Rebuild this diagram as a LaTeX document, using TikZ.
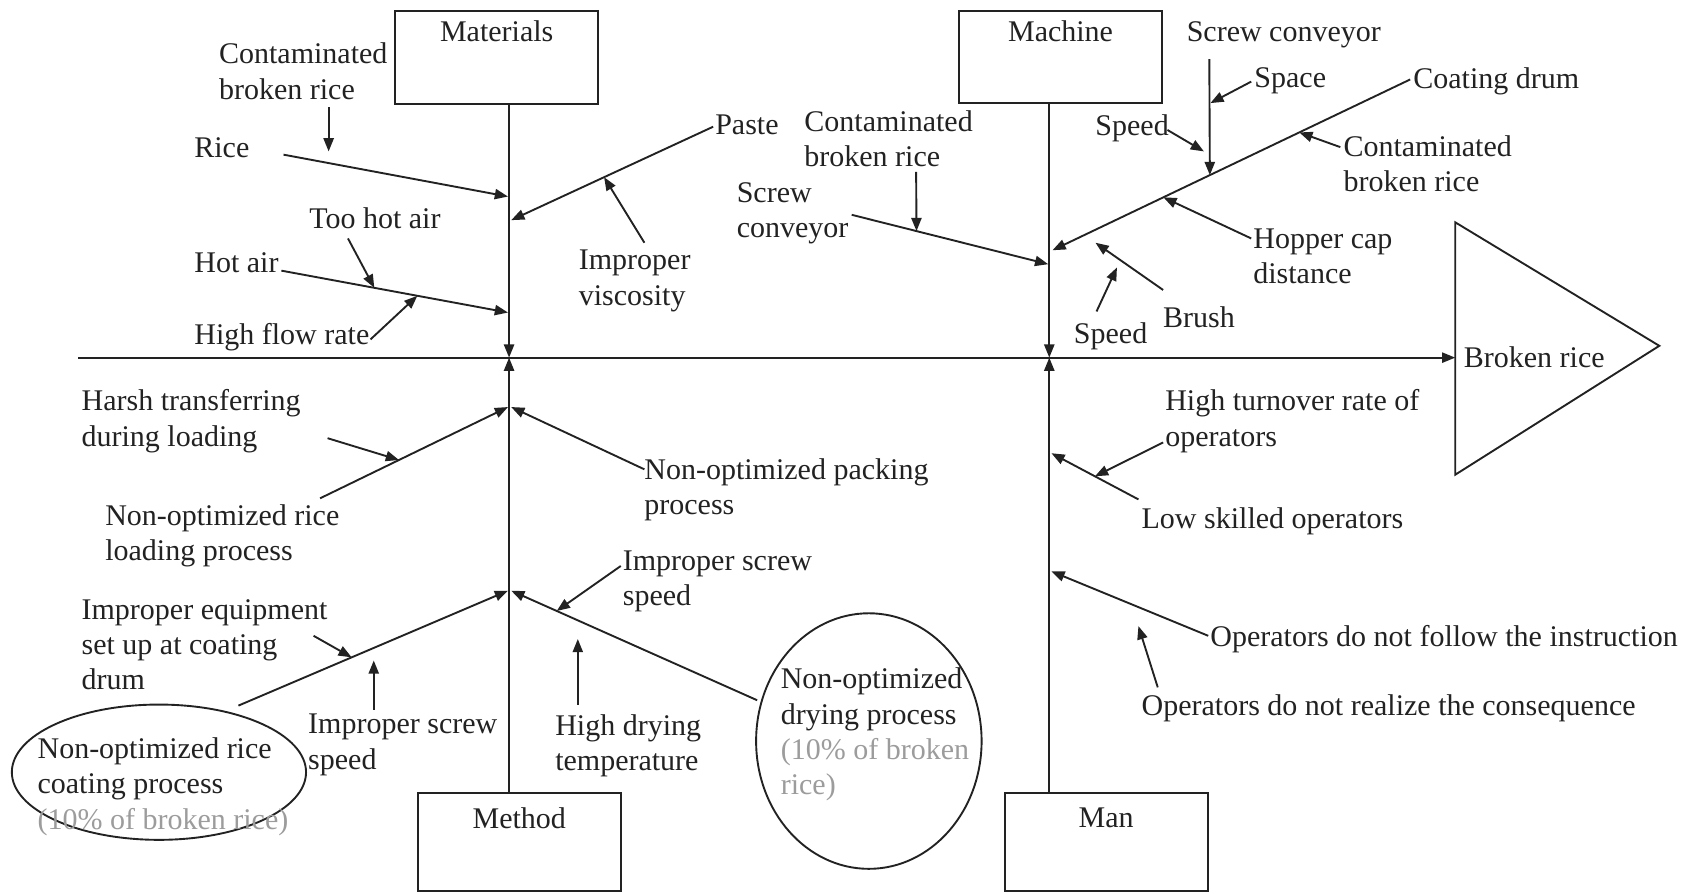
\documentclass[tikz,border=0pt]{standalone}
\usepackage{fontspec}
\setmainfont{Liberation Serif}
\usetikzlibrary{arrows.meta,calc,shapes.geometric}
\definecolor{ink}{HTML}{222222}
\definecolor{soft}{HTML}{9C9C9C}
\newcommand\lblsize{\fontsize{15.9}{18.7}\selectfont}
\begin{document}
\begin{tikzpicture}[x=0.02cm,y=-0.02cm,
  lbl/.style={font=\lblsize, inner sep=0pt, outer sep=0pt, align=left, anchor=north west, text=ink},
  ttl/.style={font=\lblsize, inner sep=0pt, outer sep=0pt, anchor=north, text=ink},
  ln/.style={draw=ink, line width=1pt},
  arr/.style={ln, -{Triangle[length=7pt,width=5.4pt]}},
  catbox/.style={draw=ink, line width=1pt, minimum width=3.78cm, inner sep=0pt},
  oval/.style={draw=ink, line width=1pt, ellipse, inner sep=0pt}]
\useasboundingbox (0,0) rectangle (1568,832);

% ---------- category boxes ----------
\node[catbox, minimum height=1.74cm] (matbox) at (462.5,53.5) {};
\node[ttl] (matlbl) at ([yshift=-0.2cm]matbox.north) {Materials};
\node[catbox, minimum height=1.72cm] (macbox) at (987.5,53) {};
\node[ttl] (maclbl) at ([yshift=-0.2cm]macbox.north) {Machine};
\node[catbox, minimum height=1.84cm] (metbox) at (483.5,784) {};
\node[ttl] (metlbl) at ([yshift=-0.3cm]metbox.north) {Method};
\node[catbox, minimum height=1.84cm] (manbox) at (1030,784) {};
\node[ttl] (manlbl) at ([yshift=-0.3cm]manbox.north) {Man};

% ---------- head ----------
\coordinate (tA) at (1355,207);
\coordinate (tB) at (1545,322);
\coordinate (tC) at (1355,442);
\draw[ln, line join=miter] (tA) -- (tB) -- (tC) -- cycle;
\node[lbl] (broken) at (1363,323) {Broken rice};

% ---------- spine ----------
\coordinate (spS) at (73,333);
\coordinate (spE) at (1355,333);
\draw[arr] (spS) -- (spE);

\coordinate (matJ) at (474,333);
\coordinate (macJ) at (977,333);
\draw[arr] (matbox.south -| matJ) -- (matJ);
\draw[arr] (metbox.north -| matJ) -- (matJ);
\draw[arr] (macbox.south -| macJ) -- (macJ);
\draw[arr] (manbox.north -| macJ) -- (macJ);

% ---------- Materials ----------
\node[lbl] (mcbr) at (204,40) {Contaminated\\broken rice};
\node[lbl] (rice) at (181,128) {Rice};
\node[lbl] (paste) at (666,107) {Paste};
\node[lbl] (visc) at (539,233) {Improper\\viscosity};
\node[lbl] (toohot) at (288,193) {Too hot air};
\node[lbl] (hotair) at (181,235) {Hot air};
\node[lbl] (hfr) at (181,301) {High flow rate};

\coordinate (c1s) at (306,100); \coordinate (c1e) at (306,141);
\coordinate (rs) at (264,144); \coordinate (re) at (473,183);
\coordinate (ps) at (664,118); \coordinate (pe) at (476,205);
\coordinate (vs) at (600,226); \coordinate (ve) at ($(ps)!0.54!(pe)$);
\coordinate (hs) at (262,252); \coordinate (he) at (473,291);
\coordinate (ts) at (324,222); \coordinate (te) at ($(hs)!0.41!(he)$);
\coordinate (fs) at (345,316); \coordinate (fe) at ($(hs)!0.60!(he)$);
\draw[arr] (c1s) -- (c1e);
\draw[arr] (rs) -- (re);
\draw[arr] (ps) -- (pe);
\draw[arr] (vs) -- (ve);
\draw[arr] (hs) -- (he);
\draw[arr] (ts) -- (te);
\draw[arr] (fs) -- (fe);

% ---------- Machine ----------
\node[lbl] (mccbr) at (749,103) {Contaminated\\broken rice};
\node[lbl] (screwc) at (686,170) {Screw\\conveyor};
\node[lbl] (coat) at (1316,63) {Coating drum};
\node[lbl] (screwtop) at (1105,20) {Screw conveyor};
\node[lbl] (space) at (1168,63) {Space};
\node[lbl] (speedA) at (1020,107) {Speed};
\node[lbl] (ccbr) at (1251,126) {Contaminated\\broken rice};
\node[lbl] (hopper) at (1167,213) {Hopper cap\\distance};
\node[lbl] (brush) at (1083,286) {Brush};
\node[lbl] (speedB) at (1000,300) {Speed};

\coordinate (scs) at (793,200); \coordinate (sce) at (976,246);
\coordinate (m1s) at (853,160); \coordinate (m1e) at ($(scs)!0.33!(sce)$);
\coordinate (cds) at (1313,74); \coordinate (cde) at (980,233);
\coordinate (vts) at (1126,55); \coordinate (vte) at ($(cds)!0.56!(cde)$);
\coordinate (sps) at (1165,76); \coordinate (spe) at (1127,96);
\coordinate (s1s) at (1087,121); \coordinate (s1e) at (1121,141);
\coordinate (ccs) at (1248,137); \coordinate (cce) at ($(cds)!0.31!(cde)$);
\coordinate (hps) at (1165,222); \coordinate (hpe) at ($(cds)!0.69!(cde)$);
\coordinate (bs) at (1083,270); \coordinate (be) at (1020,226);
\coordinate (s2s) at (1021,290); \coordinate (s2e) at (1040,249);
\draw[arr] (scs) -- (sce);
\draw[arr] (m1s) -- (m1e);
\draw[arr] (cds) -- (cde);
\draw[arr] (vts) -- (vte);
\draw[arr] (sps) -- (spe);
\draw[arr] (s1s) -- (s1e);
\draw[arr] (ccs) -- (cce);
\draw[arr] (hps) -- (hpe);
\draw[arr] (bs) -- (be);
\draw[arr] (s2s) -- (s2e);

% ---------- Method ----------
\node[lbl] (harsh) at (76,363) {Harsh transferring\\during loading};
\node[lbl] (loading) at (98,470) {Non-optimized rice\\loading process};
\node[lbl] (packing) at (600,427) {Non-optimized packing\\process};
\node[lbl] (equip) at (76,558) {Improper equipment\\set up at coating\\drum};
\node[lbl] (issA) at (287,665) {Improper screw\\speed};
\node[lbl] (issB) at (580,513) {Improper screw\\speed};
\node[lbl] (hdt) at (517,665) {High drying\\temperature};

\node[oval, minimum width=5.48cm, minimum height=2.52cm] (coatell) at (148,719) {};
\node[oval, minimum width=4.2cm, minimum height=4.76cm] (dryell) at (809,690) {};
\node[lbl] (coatproc) at (35,687) {Non-optimized rice\\coating process\\\textcolor{soft}{(10\% of broken rice)}};
\node[lbl] (dryproc) at (727,622) {Non-optimized\\drying process\\\textcolor{soft}{(10\% of broken}\\\textcolor{soft}{rice)}};

\coordinate (lds) at (298,464); \coordinate (lde) at (473,379);
\coordinate (pks) at (600,437); \coordinate (pke) at (476,379);
\coordinate (hrs) at (305,408); \coordinate (hre) at ($(lds)!0.42!(lde)$);
\coordinate (cts) at (222,657); \coordinate (cte) at (473,550);
\coordinate (dys) at (705,652); \coordinate (dye) at (476,550);
\coordinate (eqs) at (292,592); \coordinate (eqe) at ($(cts)!0.42!(cte)$);
\coordinate (i1s) at (348,661); \coordinate (i1e) at (348,615);
\coordinate (i2s) at (578,527); \coordinate (i2e) at ($(dys)!0.815!(dye)$);
\coordinate (hds) at (538,656); \coordinate (hde) at (538,595);
\draw[arr] (lds) -- (lde);
\draw[arr] (pks) -- (pke);
\draw[arr] (hrs) -- (hre);
\draw[arr] (cts) -- (cte);
\draw[arr] (dys) -- (dye);
\draw[arr] (eqs) -- (eqe);
\draw[arr] (i1s) -- (i1e);
\draw[arr] (i2s) -- (i2e);
\draw[arr] (hds) -- (hde);

% ---------- Man ----------
\node[lbl] (turnover) at (1085,363) {High turnover rate of\\operators};
\node[lbl] (lowsk) at (1063,473) {Low skilled operators};
\node[lbl] (follow) at (1127,582) {Operators do not follow the instruction};
\node[lbl] (realize) at (1063,647) {Operators do not realize the consequence};

\coordinate (lss) at (1060,465); \coordinate (lse) at (979,422);
\coordinate (tos) at (1083,412); \coordinate (toe) at ($(lss)!0.5!(lse)$);
\coordinate (fls) at (1125,592); \coordinate (fle) at (979,532);
\coordinate (rzs) at (1078,640); \coordinate (rze) at (1060,583);
\draw[arr] (lss) -- (lse);
\draw[arr] (tos) -- (toe);
\draw[arr] (fls) -- (fle);
\draw[arr] (rzs) -- (rze);
\end{tikzpicture}
\end{document}
